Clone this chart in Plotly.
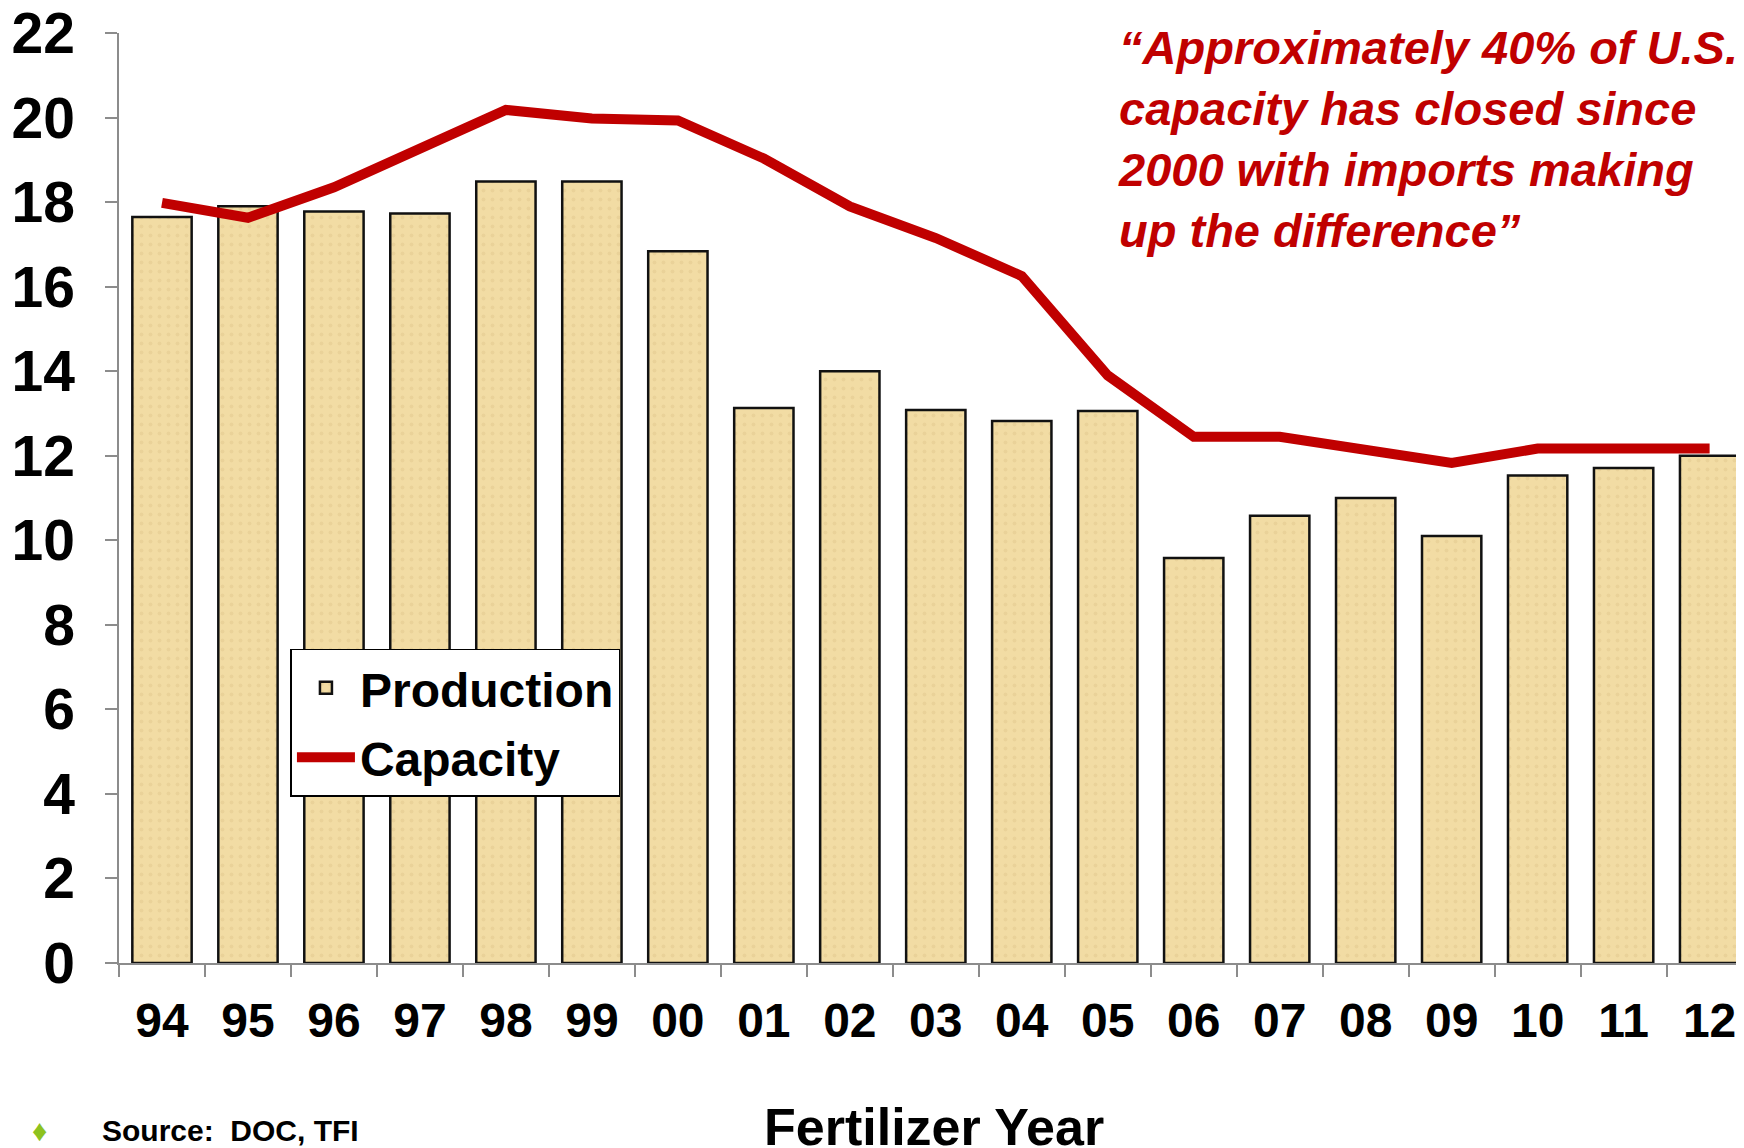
import plotly.graph_objects as go

years = ["94", "95", "96", "97", "98", "99", "00", "01", "02", "03",
         "04", "05", "06", "07", "08", "09", "10", "11", "12"]
production = [17.65, 17.9, 17.78, 17.73, 18.49, 18.49, 16.84, 13.13, 14.0, 13.08,
              12.82, 13.06, 9.58, 10.58, 11.0, 10.1, 11.53, 11.71, 12.0]
capacity = [17.98, 17.63, 18.35, 19.27, 20.18, 19.98, 19.93, 19.03, 17.9, 17.15,
            16.25, 13.9, 12.45, 12.45, 12.13, 11.83, 12.17, 12.17, 12.17]
y_ticks = [0, 2, 4, 6, 8, 10, 12, 14, 16, 18, 20, 22]

FONT = "Liberation Sans, Arial, sans-serif"
RED = "#C00000"

fig = go.Figure()
fig.add_trace(go.Bar(
    x=years, y=production, name="Production", legendgroup="prod",
    marker=dict(color="#F2DCA4", line=dict(color="#111111", width=2.5),
                pattern=dict(shape=".", fgcolor="#D9BF83", fgopacity=0.35,
                             size=9, solidity=0.15)),
))
fig.add_trace(go.Scatter(
    x=years, y=capacity, name="Capacity", mode="lines", legendgroup="cap",
    line=dict(color=RED, width=10),
))

# the page body has an 8px default margin, so the figure is 8px smaller
fig.update_layout(
    width=1736, height=1140,
    margin=dict(l=111, r=0, t=25, b=185, autoexpand=False),
    paper_bgcolor="white", plot_bgcolor="white",
    bargap=0.31,
    showlegend=True,
    legend=dict(
        x=0.1055, y=0.338, xanchor="left", yanchor="top",
        bgcolor="white", bordercolor="black", borderwidth=1.5,
        font=dict(family=FONT, size=48, color="black", weight="bold"),
        itemwidth=58, tracegroupgap=4,
    ),
    xaxis=dict(
        range=[-0.5, 18.4], showgrid=False, showline=True, linecolor="#8c8c8c",
        linewidth=2, ticks="outside", tickson="boundaries", ticklen=12,
        tickcolor="#8c8c8c", tickwidth=1.5, ticklabelstandoff=14,
        tickfont=dict(family=FONT, size=48, color="black", weight="bold"),
        fixedrange=True, automargin=False,
    ),
    yaxis=dict(
        range=[0, 22], tickvals=y_ticks, showgrid=False, showline=True,
        linecolor="#8c8c8c", linewidth=1.5, ticks="outside", ticklen=12,
        tickcolor="#8c8c8c", tickwidth=1.5, ticklabelstandoff=19,
        ticklabeloverflow="allow",
        tickfont=dict(family=FONT, size=57, color="black", weight="bold"),
        zeroline=False, fixedrange=True, automargin=False,
    ),
    annotations=[
        dict(
            xref="paper", yref="paper", x=0.6135, y=0.886,
            xanchor="left", yanchor="middle", align="left", showarrow=False,
            text="\u201cApproximately 40% of U.S.<br>capacity has closed since<br>"
                 "2000 with imports making<br>up the difference\u201d",
            font=dict(family=FONT, size=47, color=RED, weight="bold", style="italic"),
        ),
        dict(
            xref="paper", yref="paper", x=0.5015, y=-0.176,
            xanchor="center", yanchor="middle", showarrow=False,
            text="Fertilizer Year",
            font=dict(family=FONT, size=52, color="black", weight="bold"),
        ),
        dict(
            xref="paper", yref="paper", x=-0.0117, y=-0.18,
            xanchor="left", yanchor="middle", showarrow=False,
            text="Source:  DOC, TFI",
            font=dict(family=FONT, size=30, color="black", weight="bold"),
        ),
        dict(
            xref="paper", yref="paper", x=-0.0492, y=-0.18,
            xanchor="center", yanchor="middle", showarrow=False,
            text="\u2666",
            font=dict(family=FONT, size=30, color="#8DC21F"),
        ),
    ],
)

fig.write_html("out.html")
